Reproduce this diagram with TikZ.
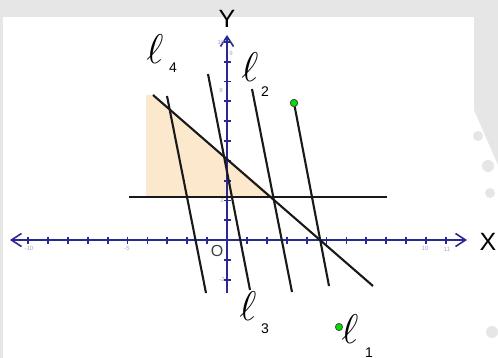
\documentclass[tikz,border=0pt]{standalone}
\usepackage{fontspec}
\setmainfont{Liberation Sans}
\usetikzlibrary{arrows.meta}
\definecolor{axisblue}{RGB}{40,40,150}
\definecolor{regionfill}{RGB}{252,232,204}
\definecolor{ptgreen}{RGB}{0,225,0}
\definecolor{wmgray}{RGB}{230,230,230}
\definecolor{ticklab}{RGB}{165,165,205}
\begin{document}
\begin{tikzpicture}[x=0.5pt,y=-0.5pt,
  axisline/.style={draw=axisblue,line width=1pt},
  axistip/.style={-{Straight Barb[length=5pt,width=6.5pt,line width=0.8pt]}},
  tickmark/.style={draw=axisblue,line width=0.9pt},
  ticklabel/.style={text=ticklab,font=\fontsize{3}{3}\selectfont,inner sep=0pt},
  lineseg/.style={draw=black!90,line width=1.05pt},
  ellname/.style={inner sep=0pt,font=\fontsize{21}{21}\selectfont},
  ellsub/.style={inner sep=0pt,font=\fontsize{7}{7}\selectfont},
  axisname/.style={inner sep=0pt,font=\fontsize{12.5}{12.5}\selectfont},
  greenpt/.style={circle,fill=ptgreen,draw=black!70,line width=0.4pt,minimum size=3.6pt,inner sep=0pt}]
\useasboundingbox (0,0) rectangle (498,358);
\fill[white] (0,0) rectangle (498,358);
% watermark background
\fill[wmgray] (0,0) rectangle (498,17);
\fill[wmgray] (0,17) rectangle (3,358);
\fill[wmgray] (474,17) -- (474,110) -- (498,165) -- (498,17) -- cycle;
\fill[wmgray] (478,136) circle (5);
\fill[wmgray] (488,166) circle (6);
\fill[wmgray] (490,193) circle (5);
\fill[wmgray] (492,332) circle (6);
% shaded region
\fill[regionfill] (146,95) -- (153,95) -- (273,197) -- (146,197) -- cycle;
% axes
\coordinate (xl) at (10,240);
\coordinate (xr) at (467,240);
\coordinate (yb) at (227,293);
\coordinate (yt) at (227,35);
\draw[axisline,axistip] (227,240) -- (xr);
\draw[axisline,axistip] (227,240) -- (xl);
\draw[axisline,axistip] (yb) -- (yt);
\foreach \k in {-10,...,-1,1,2,...,11} \draw[tickmark] (227+19.9*\k,236.5) -- (227+19.9*\k,243.5);
\foreach \k in {-2,-1,1,2,...,10} \draw[tickmark] (223.5,240-19.8*\k) -- (230.5,240-19.8*\k);
\node[ticklabel] (lxa) at (29,248) {-10};
\node[ticklabel] (lxb) at (127,248) {-5};
\node[ticklabel] (lxc) at (425,248) {10};
\node[ticklabel] (lxd) at (447,249) {11};
\node[ticklabel] (lya) at (221,42) {10};
\node[ticklabel] (lyb) at (231,53) {9};
\node[ticklabel] (lyc) at (221,90) {8};
\node[ticklabel] (lyd) at (222,200) {2};
\node[ticklabel] (lye) at (222,279) {-2};
% line end points
\coordinate (hA) at (129,197);
\coordinate (hB) at (387,197);
\coordinate (dA) at (153,95);
\coordinate (dB) at (373,286);
\coordinate (fA) at (167,96);
\coordinate (fB) at (206,293);
\coordinate (tA) at (208,74);
\coordinate (tB) at (250,290);
\coordinate (sA) at (252,89);
\coordinate (sB) at (292,292);
\coordinate (oB) at (329,286);
\node[greenpt] (g1) at (294,103) {};
\node[greenpt] (g2) at (339,327) {};
\draw[lineseg] (hA) -- (hB);
\draw[lineseg] (dA) -- (dB);
\draw[lineseg] (fA) -- (fB);
\draw[lineseg] (tA) -- (tB);
\draw[lineseg] (sA) -- (sB);
\draw[lineseg] (g1.center) -- (oB);
\node[greenpt] at (g1) {};
% labels
\node[ellname] (e4) at (155,49) {$\ell$};
\node[ellsub] (s4) at (173,68) {4};
\node[ellname] (e2) at (250,67) {$\ell$};
\node[ellsub] (s2) at (265,92) {2};
\node[ellname] (e3) at (248,306) {$\ell$};
\node[ellsub] (s3) at (265,329) {3};
\node[ellname] (e1) at (350,329) {$\ell$};
\node[ellsub] (s1) at (369,353) {1};
\node[axisname] (ylab) at (227,19) {Y};
\node[axisname] (xlab) at (488,242) {X};
\node[inner sep=0pt,font=\fontsize{8}{8}\selectfont,text=black!75] (orig) at (217,251) {O};
\end{tikzpicture}
\end{document}
